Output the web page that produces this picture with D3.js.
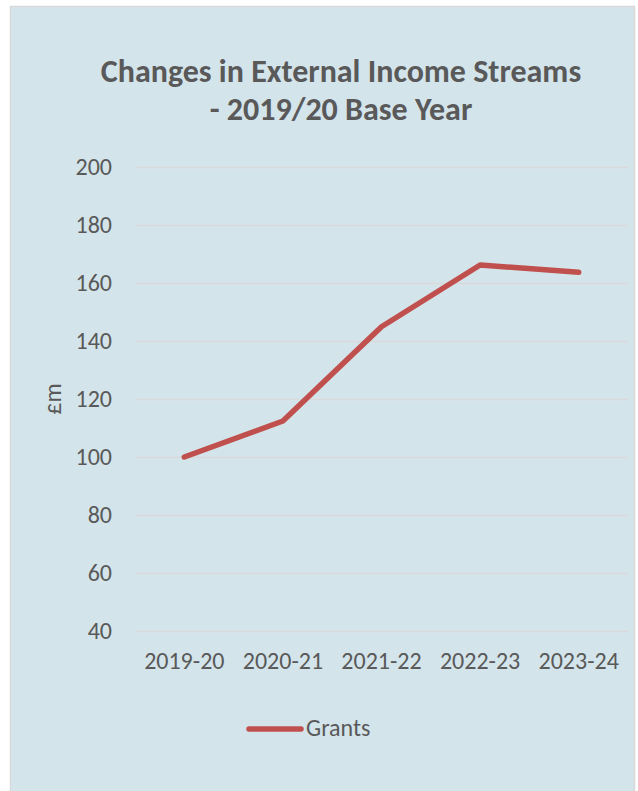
<!DOCTYPE html>
<html>
<head>
<meta charset="utf-8">
<script src="https://cdn.jsdelivr.net/npm/d3@7"></script>
<style>
  html, body { margin: 0; padding: 0; background: #ffffff; }
  svg { display: block; }
</style>
</head>
<body>
<svg id="chart" width="638" height="791"></svg>
<script>
const categories = ["2019-20", "2020-21", "2021-22", "2022-23", "2023-24"];
const grants = [100, 112.4, 144.9, 166.2, 163.7];
const yTicks = [40, 60, 80, 100, 120, 140, 160, 180, 200];
const titleLines = ["Changes in External Income Streams", "- 2019/20 Base Year"];
const seriesName = "Grants";
const yAxisTitle = "£m";

const svg = d3.select("#chart");
const font = "Calibri, Carlito, Lato, sans-serif";
const textColor = "#595959";

// panel
svg.append("rect")
  .attr("x", 10.5).attr("y", 6.5)
  .attr("width", 624).attr("height", 800)
  .attr("fill", "#d4e4eb")
  .attr("stroke", "#d9d9d9").attr("stroke-width", 1.5);

const plot = { left: 135, right: 628, top: 167, bottom: 631 };

const x = d3.scaleBand().domain(categories).range([plot.left, plot.right]);
const y = d3.scaleLinear().domain([40, 200]).range([plot.bottom, plot.top]);

// gridlines + y labels
const yAxis = d3.axisLeft(y).tickValues(yTicks).tickSize(-(plot.right - plot.left)).tickPadding(23);
const gy = svg.append("g").attr("transform", `translate(${plot.left},0)`).call(yAxis);
gy.select(".domain").remove();
gy.selectAll(".tick line").attr("stroke", "#d9d9d9").attr("stroke-width", 1.5);
gy.selectAll(".tick text")
  .attr("fill", textColor).style("font-family", font).style("font-size", "24px");

// x axis labels
const xAxis = d3.axisBottom(x).tickSize(0).tickPadding(0);
const gx = svg.append("g").attr("transform", `translate(0,${plot.bottom})`).call(xAxis);
gx.select(".domain").remove();
gx.selectAll(".tick text")
  .attr("dy", null).attr("y", 38)
  .attr("fill", textColor).style("font-family", font).style("font-size", "24px");

// line
const line = d3.line()
  .x((d, i) => x(categories[i]) + x.bandwidth() / 2)
  .y(d => y(d));
svg.append("path")
  .datum(grants)
  .attr("d", line)
  .attr("fill", "none")
  .attr("stroke", "#c0504d")
  .attr("stroke-width", 5.5)
  .attr("stroke-linecap", "round")
  .attr("stroke-linejoin", "round");

// title
svg.append("text")
  .attr("x", 341).attr("y", 82)
  .attr("text-anchor", "middle")
  .attr("fill", textColor)
  .style("font-family", font).style("font-size", "32px").style("font-weight", "bold")
  .selectAll("tspan").data(titleLines).join("tspan")
  .attr("x", 341).attr("dy", (d, i) => i === 0 ? 0 : 38)
  .text(d => d);

// y axis title
svg.append("text")
  .attr("transform", "translate(61,399) rotate(-90)")
  .attr("text-anchor", "middle")
  .attr("fill", textColor)
  .style("font-family", font).style("font-size", "24px")
  .text(yAxisTitle);

// legend
svg.append("line")
  .attr("x1", 249).attr("x2", 301).attr("y1", 729).attr("y2", 729)
  .attr("stroke", "#c0504d").attr("stroke-width", 5.5).attr("stroke-linecap", "round");
svg.append("text")
  .attr("x", 306).attr("y", 736)
  .attr("fill", textColor)
  .style("font-family", font).style("font-size", "24px")
  .text(seriesName);
</script>
</body>
</html>
